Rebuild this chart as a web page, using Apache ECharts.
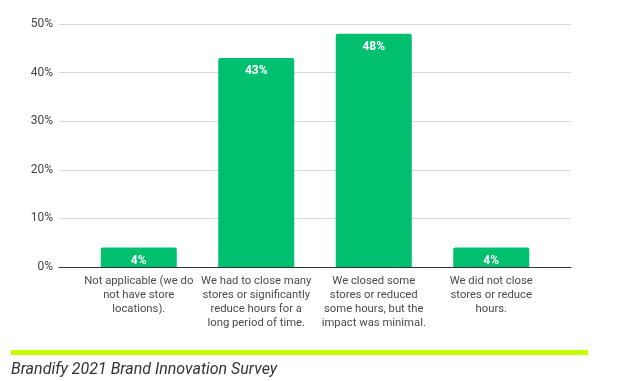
<!DOCTYPE html>
<html><head><meta charset="utf-8">
<script src="https://cdn.jsdelivr.net/npm/echarts@6/dist/echarts.min.js"></script>
<style>html,body{margin:0;padding:0;background:#fff}#c{width:624px;height:381px}</style>
</head><body><div id="c"></div>
<script>
var categories = [
  "Not applicable (we do\nnot have store\nlocations).",
  "We had to close many\nstores or significantly\nreduce hours for a\nlong period of time.",
  "We closed some\nstores or reduced\nsome hours, but the\nimpact was minimal.",
  "We did not close\nstores or reduce\nhours."
];
var values = [4, 43, 48, 4];
var yTicks = [0, 10, 20, 30, 40, 50];
var footer = "Brandify 2021 Brand Innovation Survey";

var chart = echarts.init(document.getElementById('c'));
chart.setOption({
  animation: false,
  textStyle: {fontFamily: 'Roboto'},
  grid: [
    {left: 59, right: 53, top: 24, bottom: 114},
    {left: 80, right: 74, top: 24, bottom: 114}
  ],
  xAxis: [
    {gridIndex: 0, type: 'value', min: 0, max: 1, axisLabel: {show: false}, axisTick: {show: false}, splitLine: {show: false},
     axisLine: {show: true, lineStyle: {color: '#333', width: 1}}},
    {gridIndex: 1, type: 'category', data: categories, axisLine: {show: false}, axisTick: {show: false},
     axisLabel: {color: '#4a4a4a', fontSize: 11.3, lineHeight: 14, margin: 7, interval: 0}}
  ],
  yAxis: [
    {gridIndex: 0, type: 'value', min: 0, max: 50, interval: 10, axisLine: {show: false}, axisTick: {show: false},
     axisLabel: {color: '#444', fontSize: 12, margin: 6, formatter: function(v){return v + '%';}},
     splitLine: {lineStyle: {color: '#d9d9d9'}}},
    {gridIndex: 1, type: 'value', min: 0, max: 50, show: false}
  ],
  series: [{
    type: 'bar', xAxisIndex: 1, yAxisIndex: 1, data: values, barWidth: 76,
    itemStyle: {color: '#00bf6f', borderRadius: [2, 2, 0, 0]},
    label: {show: true, position: 'insideTop', distance: 7, color: '#fff', fontWeight: 'bold', fontSize: 12,
      formatter: function(p){return p.value + '%';}}
  }],
  graphic: [
    {type: 'rect', shape: {x: 11, y: 350, width: 577, height: 5}, style: {fill: '#c6fc03'}},
    {type: 'text', left: 11, top: 362, style: {text: footer, font: 'italic 16px Roboto', fill: '#333'}}
  ]
});
</script></body></html>
